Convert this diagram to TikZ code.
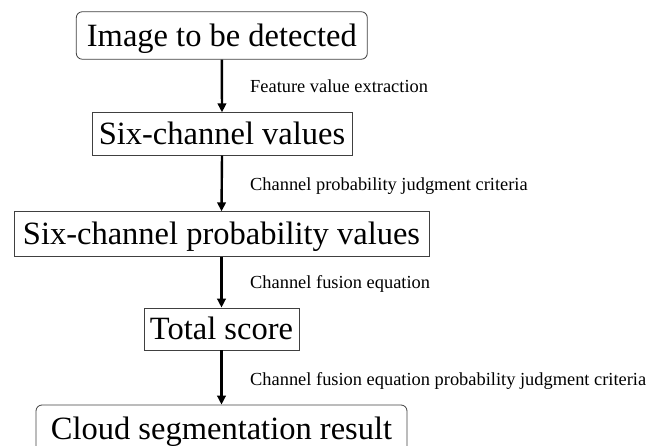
\documentclass[tikz,border=0pt]{standalone}
\usepackage{fontspec}
\setmainfont{Liberation Serif}
\usetikzlibrary{arrows.meta}
\begin{document}
\begin{tikzpicture}[x=1pt,y=-1pt,
  stage/.style={draw=black!75, line width=0.8pt, inner sep=0pt,
    text height=21.5pt, text depth=0pt, font=\fontsize{32.5}{36}\selectfont},
  roundstage/.style={stage, rounded corners=6pt},
  flow/.style={line width=2.4pt, -{Triangle[length=9pt,width=8.5pt]}},
  note/.style={anchor=base west, inner sep=0pt, font=\fontsize{18.4}{20}\selectfont}]
\useasboundingbox (0,0) rectangle (649,446);
% process stages, top to bottom
\node[roundstage, minimum width=291pt, minimum height=47.5pt] (img) at (221.8,35.5) {Image to be detected};
\node[stage, minimum width=260pt, minimum height=42.5pt] (six) at (222,134) {Six-channel values};
\node[stage, minimum width=415pt, minimum height=44.5pt] (prob) at (221.5,234) {Six-channel probability values};
\node[stage, minimum width=155pt, minimum height=42pt] (score) at (221.5,329) {Total score};
\node[roundstage, minimum width=371pt, minimum height=48pt] (res) at (221.5,429) {Cloud segmentation result};
% connectors
\draw[flow] (img.south) -- (six.north);
\draw[flow] (six.south) -- (prob.north);
\draw[flow] (prob.south) -- (score.north);
\draw[flow] (score.south) -- (res.north);
% step labels
\node[note] (l1) at (250,92.7) {Feature value extraction};
\node[note] (l2) at (250,191) {Channel probability judgment criteria};
\node[note] (l3) at (250,288.3) {Channel fusion equation};
\node[note] (l4) at (250,386) {Channel fusion equation probability judgment criteria};
\end{tikzpicture}
\end{document}
